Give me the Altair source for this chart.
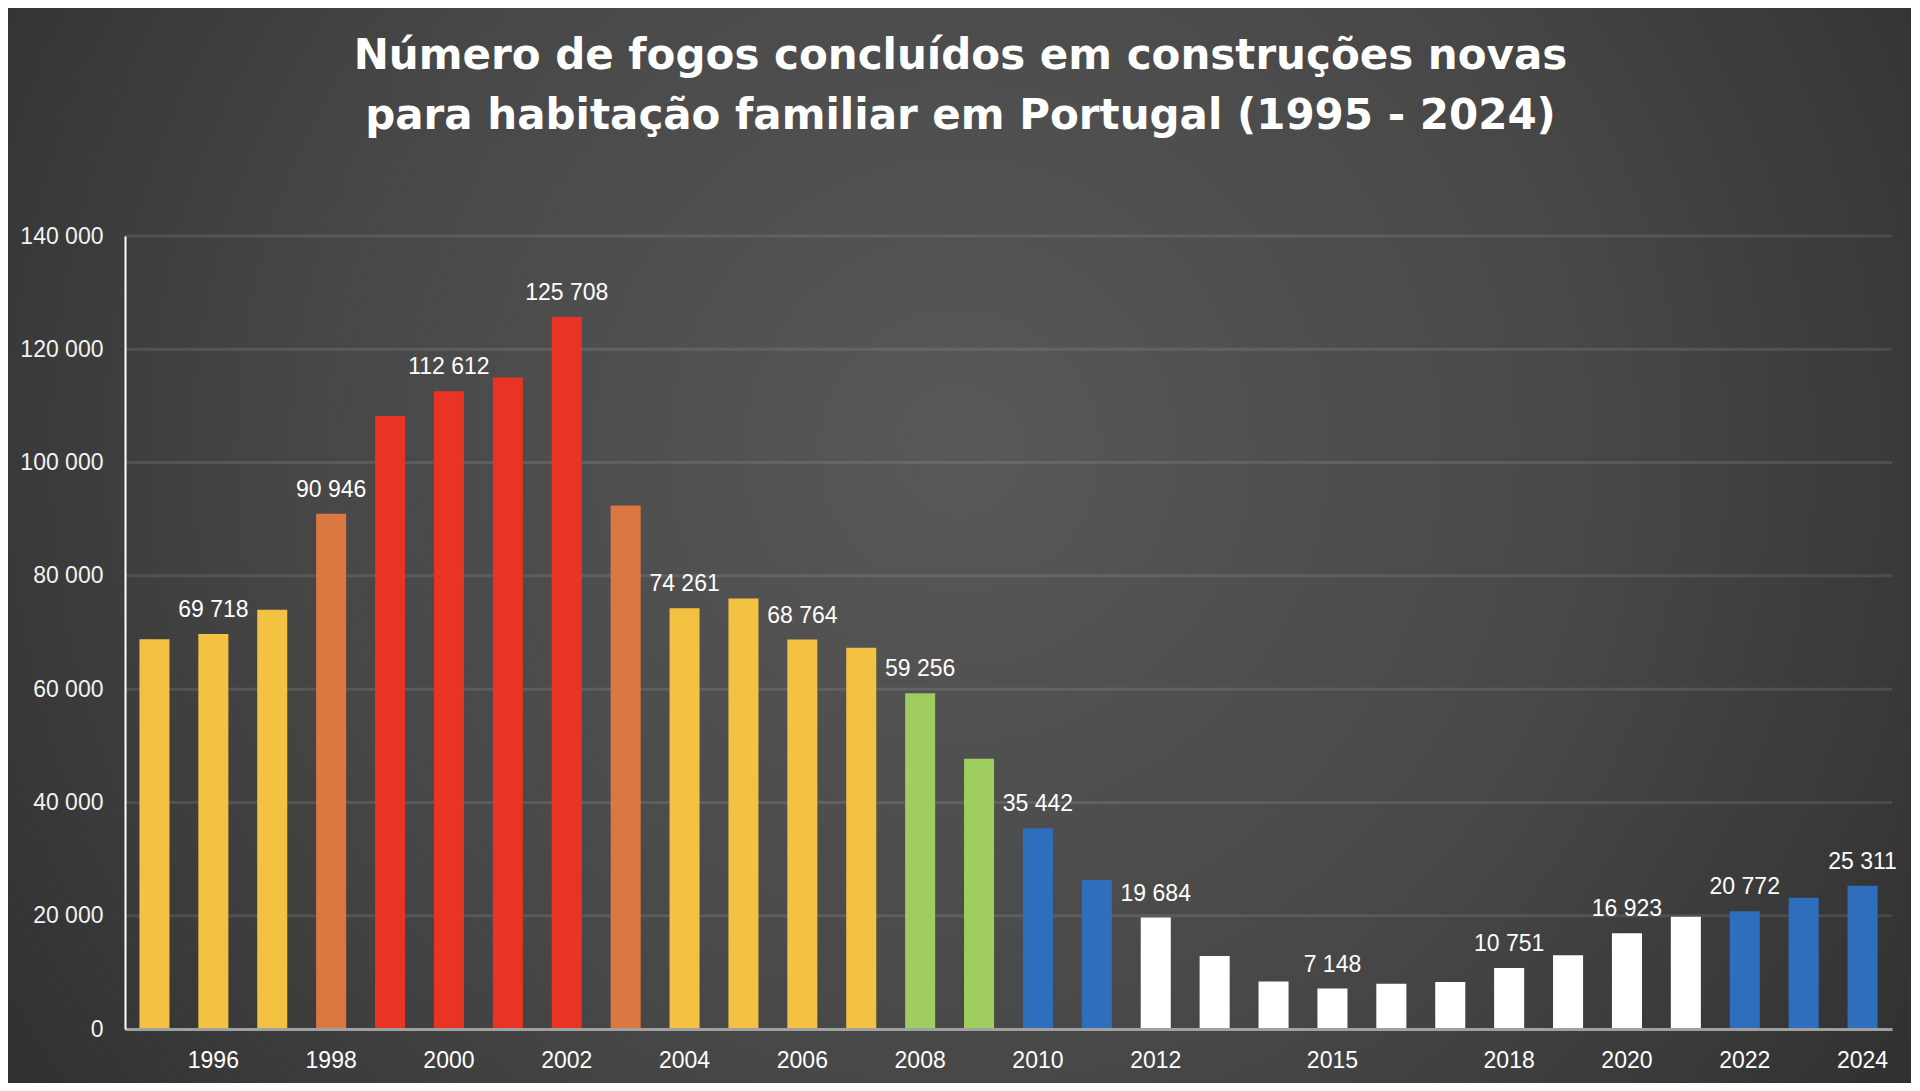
import altair as alt
import pandas as pd

# ---- data ----
years = list(range(1995, 2025))
values = [68800, 69718, 74000, 90946, 108200, 112612, 115000, 125708, 92400, 74261,
          76000, 68764, 67300, 59256, 47700, 35442, 26300, 19684, 12900, 8400,
          7148, 8000, 8300, 10751, 13000, 16923, 19800, 20772, 23150, 25311]
labeled_years = [1996, 1998, 2000, 2002, 2004, 2006, 2008, 2010, 2012, 2015,
                 2018, 2020, 2022, 2024]
tick_years = [1996, 1998, 2000, 2002, 2004, 2006, 2008, 2010, 2012, 2015,
              2018, 2020, 2022, 2024]
y_ticks = [0, 20000, 40000, 60000, 80000, 100000, 120000, 140000]
title_lines = ["Número de fogos concluídos em construções novas",
               "para habitação familiar em Portugal (1995 - 2024)"]

# colour classes by value
thresholds = [20000, 40000, 60000, 80000, 100000]
class_colors = ["#FFFFFF", "#2E6EBD", "#9FCD5F", "#F4C243", "#DB7842", "#E93323"]

df = pd.DataFrame({"year": [str(y) for y in years], "value": values})
df["label"] = [f"{v:,}".replace(",", " ") for v in values]
df["show"] = [y in labeled_years for y in years]

W, H = 1767, 793
PAD = {"left": 117, "top": 228, "right": 19, "bottom": 54}

tick_expr = "indexof([" + ",".join(f"'{y}'" for y in tick_years) + "], datum.value) >= 0 ? datum.value : ''"

bg = alt.Chart(pd.DataFrame({"a": [0]})).mark_rect(
    fill={
        "gradient": "radial",
        "x1": 0.5, "y1": 0.45, "r1": 0,
        "x2": 0.5, "y2": 0.45, "r2": 0.75,
        "stops": [
            {"offset": 0, "color": "#585858"},
            {"offset": 0.45, "color": "#474747"},
            {"offset": 1, "color": "#232323"},
        ],
    }
).encode(
    x=alt.value(-PAD["left"]), x2=alt.value(W + PAD["right"]),
    y=alt.value(-PAD["top"]), y2=alt.value(H + PAD["bottom"]),
)

grid = alt.Chart(pd.DataFrame({"v": y_ticks[1:]})).mark_rule(
    color="#FFFFFF", opacity=0.1, strokeWidth=3
).encode(
    x=alt.value(0), x2=alt.value(W),
    y=alt.Y("v:Q", scale=alt.Scale(domain=[0, 140000], nice=False)),
)

base = alt.Chart(df)

xenc = alt.X("year:N", sort=None,
             scale=alt.Scale(paddingInner=0.49, paddingOuter=0.245),
             axis=alt.Axis(title=None, labelAngle=0, ticks=False, labelExpr=tick_expr,
                           labelFont="Liberation Sans", labelFontSize=23, labelColor="#FFFFFF",
                           labelPadding=20, domainColor="#A0A0A0", domainWidth=3,
                           grid=False, zindex=2))

bars = base.mark_bar().encode(
    x=xenc,
    y=alt.Y("value:Q",
            scale=alt.Scale(domain=[0, 140000], nice=False),
            axis=alt.Axis(title=None, values=y_ticks, ticks=False,
                          labelExpr="replace(format(datum.value, ','), ',', ' ')",
                          labelFont="Liberation Sans", labelFontSize=23, labelColor="#F2F2F2",
                          labelPadding=22, domainColor="#FFFFFF", domainWidth=2,
                          grid=False, zindex=2)),
    color=alt.Color("value:Q", legend=None,
                    scale=alt.Scale(type="threshold", domain=thresholds, range=class_colors)),
)

labels = base.transform_filter("datum.show").mark_text(
    font="Liberation Sans", fontSize=23, color="#FFFFFF", baseline="alphabetic", dy=-17
).encode(
    x=alt.X("year:N", sort=None),
    y=alt.Y("value:Q"),
    text="label:N",
)

chart = alt.layer(bg, grid, bars, labels).properties(
    width=W, height=H,
    padding=PAD,
    autosize=alt.AutoSizeParams(type="none"),
    background="#2a2a2a",
    title=alt.TitleParams(text=title_lines, font="DejaVu Sans", fontWeight="bold",
                          fontSize=42, color="#FFFFFF", lineHeight=60,
                          anchor="middle", dx=-48, offset=-130, zindex=3),
).configure_view(stroke=None)

chart.save("out.html", embed_options={"renderer": "svg", "actions": False})
